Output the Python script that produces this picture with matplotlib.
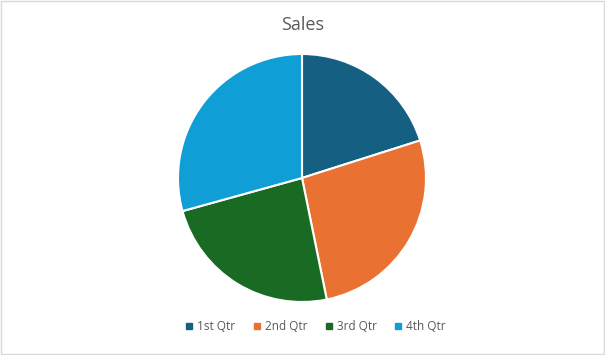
import matplotlib.pyplot as plt
from matplotlib.patches import Rectangle
from matplotlib.lines import Line2D

# Data
quarters = ["1st Qtr", "2nd Qtr", "3rd Qtr", "4th Qtr"]
sales = [20.1, 26.7, 23.9, 29.3]
colors = ["#156082", "#E97132", "#196B24", "#0F9ED5"]

plt.rcParams['font.family'] = ['Open Sans', 'DejaVu Sans']

fig = plt.figure(figsize=(6.05, 3.55), dpi=100)

# Border around chart area
fig.patches.append(Rectangle((0.002, 0.003), 0.996, 0.994, transform=fig.transFigure,
                             fill=False, edgecolor="#D9D9D9", linewidth=1))

# Pie axes (center ~ (302,178) px, radius ~124 px)
r = 124
ax = fig.add_axes([(302 - r) / 605, (355 - 178 - r) / 355, 2 * r / 605, 2 * r / 355])
ax.pie(sales, colors=colors, startangle=90, counterclock=False, radius=1,
       wedgeprops=dict(edgecolor="white", linewidth=1.5))
ax.set_xlim(-1, 1)
ax.set_ylim(-1, 1)
ax.set_aspect("equal")
ax.axis("off")

# Title
fig.text(0.5, 1 - 25 / 355, "Sales", ha="center", va="center", fontsize=13, color="#595959")

# Legend
handles = [Line2D([0], [0], marker="s", linestyle="none", markersize=4.5,
                  markerfacecolor=c, markeredgecolor=c) for c in colors]
fig.legend(handles, quarters, loc="center", bbox_to_anchor=(0.52, 1 - 327 / 355), ncol=4,
           frameon=False, fontsize=8.5, labelcolor="#595959", handletextpad=0.2,
           columnspacing=1.3, handlelength=1.0)

fig.savefig("out.png", dpi=100)
